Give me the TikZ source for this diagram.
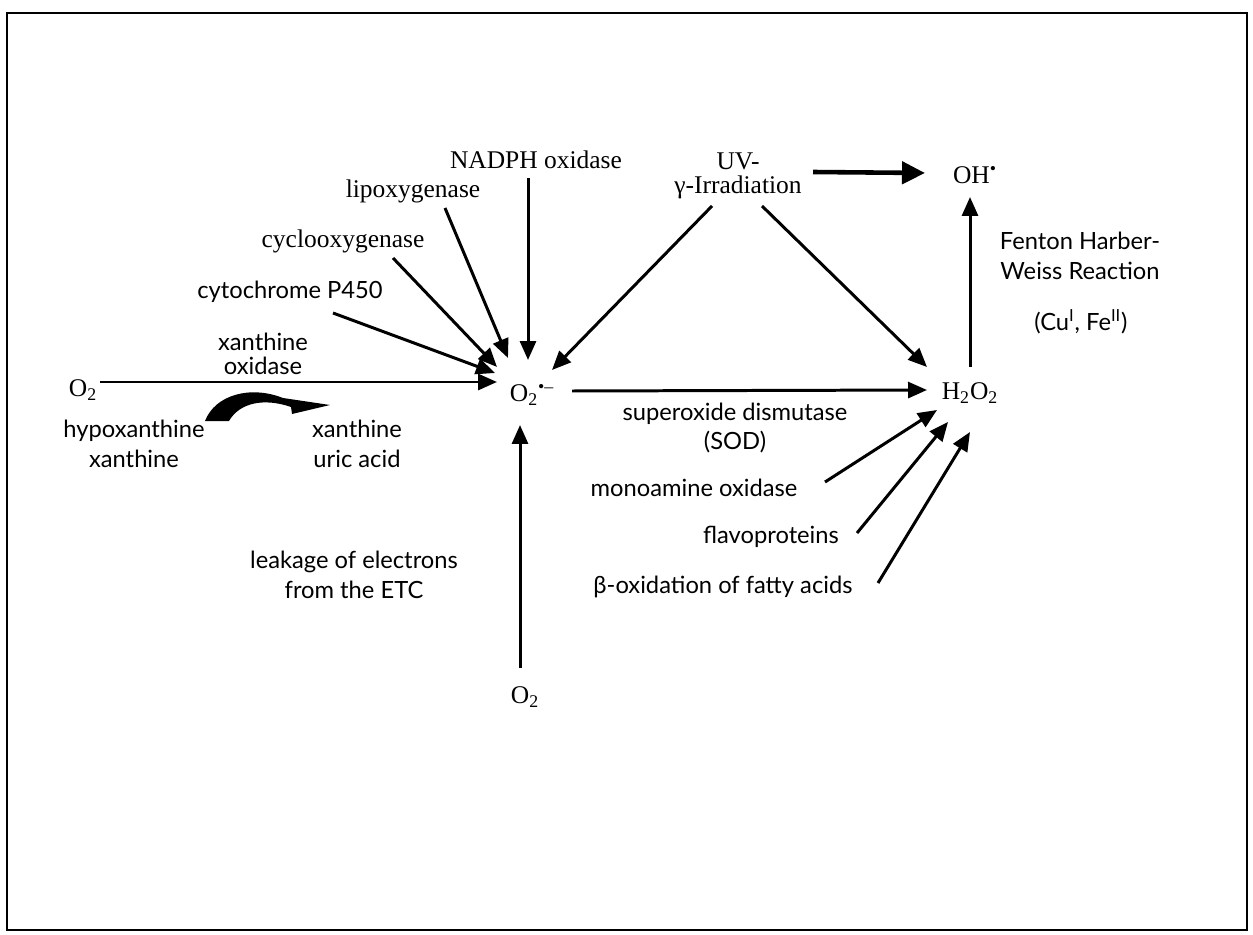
\documentclass[tikz,border=0pt]{standalone}
\usepackage{fontspec}
\setmainfont{Liberation Serif}
\newfontfamily\optima{Lato}
\usetikzlibrary{arrows.meta}
\tikzset{
  chem/.style={font=\fontsize{14.5}{17}\selectfont, inner sep=0pt},
  enz/.style={font=\fontsize{14.5}{14}\selectfont, inner sep=0pt, align=center},
  lbl/.style={font=\optima\fontsize{13.5}{17}\selectfont, inner sep=0pt, align=center},
  rx/.style={line width=1.7pt, -{Triangle[length=0.38cm,width=0.32cm]}},
  bigrx/.style={line width=2.6pt, -{Triangle[length=0.46cm,width=0.44cm]}}
}
\begin{document}
\begin{tikzpicture}[x=0.02cm,y=-0.02cm]
  % frame
  \useasboundingbox (0,0) rectangle (1253,935);
  \draw[line width=0.8pt] (7,13) rectangle (1247,930);
  % species
  \node[chem] (o2l) at (83,390) {O\textsubscript{2}};
  \node[chem] (sup) at (532,395) {O\textsubscript{2}\textsuperscript{•–}};
  \node[chem] (hh) at (970,393) {H\textsubscript{2}O\textsubscript{2}};
  \node[chem] (oh) at (975,175) {OH\textsuperscript{•}};
  \node[chem] (o2b) at (525,697) {O\textsubscript{2}};
  % sources of superoxide
  \node[enz] (nadph) at (536,160) {NADPH oxidase};
  \node[enz] (lipo) at (413,191) {lipoxygenase};
  \node[enz] (cyclo) at (343,241) {cyclooxygenase};
  \node[lbl] (cyto) at (290,292) {cytochrome P450};
  \node[lbl, font=\optima\fontsize{13.5}{13.5}\selectfont] (xo) at (263,354) {xanthine\\oxidase};
  \node[lbl] (hypo) at (134,444) {hypoxanthine\\xanthine};
  \node[lbl] (xur) at (357,444) {xanthine\\uric acid};
  \node[lbl] (leak) at (354,575) {leakage of electrons\\from the ETC};
  \node[enz] (uv) at (738,176) {UV-\\γ-Irradiation};
  % sources of hydrogen peroxide
  \node[lbl] (sod) at (735,428) {superoxide dismutase\\(SOD)};
  \node[lbl] (mao) at (694,488) {monoamine oxidase};
  \node[lbl] (flavo) at (771,537) {flavoproteins};
  \node[lbl] (beta) at (723,587) {β-oxidation of fatty acids};
  \node[lbl] (fenton) at (1080,256) {Fenton Harber-\\Weiss Reaction};
  \node[lbl] (cufe) at (1081,322) {(Cu\textsuperscript{I}, Fe\textsuperscript{II})};
  % arrows into O2.-
  \draw[rx] ([shift={(17,-8)}]o2l.center) -- ([shift={(-35,-13)}]sup.center);
  \draw[rx] ([shift={(43,21)}]cyto.center) -- ([shift={(-37,-22)}]sup.center);
  \draw[rx] ([shift={(50,17)}]cyclo.center) -- ([shift={(-35,-28)}]sup.center);
  \draw[rx] ([shift={(32,17)}]lipo.center) -- ([shift={(-24,-37)}]sup.center);
  \draw[rx] ([shift={(-8,18)}]nadph.center) -- ([shift={(-4,-35)}]sup.center);
  \draw[rx] ([shift={(-26,30)}]uv.center) -- ([shift={(20,-25)}]sup.center);
  \draw[rx] ([shift={(-5,-29)}]o2b.center) -- ([shift={(-12,30)}]sup.center);
  % xanthine swoosh
  \fill (205,421) .. controls (215,395) and (250,385) .. (283,398)
    -- (330,405) -- (292,414) -- (291,407)
    .. controls (265,398) and (240,402) .. (229,421) -- cycle;
  % arrows into H2O2 and OH.
  \draw[rx] ([shift={(40,-4)}]sup.center) -- ([shift={(-43,-3)}]hh.center);
  \draw[rx] ([shift={(24,30)}]uv.center) -- ([shift={(-43,-26)}]hh.center);
  \draw[rx] ([shift={(131,-6)}]mao.center) -- ([shift={(-33,17)}]hh.center);
  \draw[rx] ([shift={(86,-4)}]flavo.center) -- ([shift={(-22,29)}]hh.center);
  \draw[rx] ([shift={(155,-4)}]beta.center) -- ([shift={(0,39)}]hh.center);
  \draw[rx] ([shift={(0,-26)}]hh.center) -- ([shift={(-5,22)}]oh.center);
  \draw[bigrx] ([shift={(75,-4)}]uv.center) -- ([shift={(-50,-2)}]oh.center);
\end{tikzpicture}
\end{document}
